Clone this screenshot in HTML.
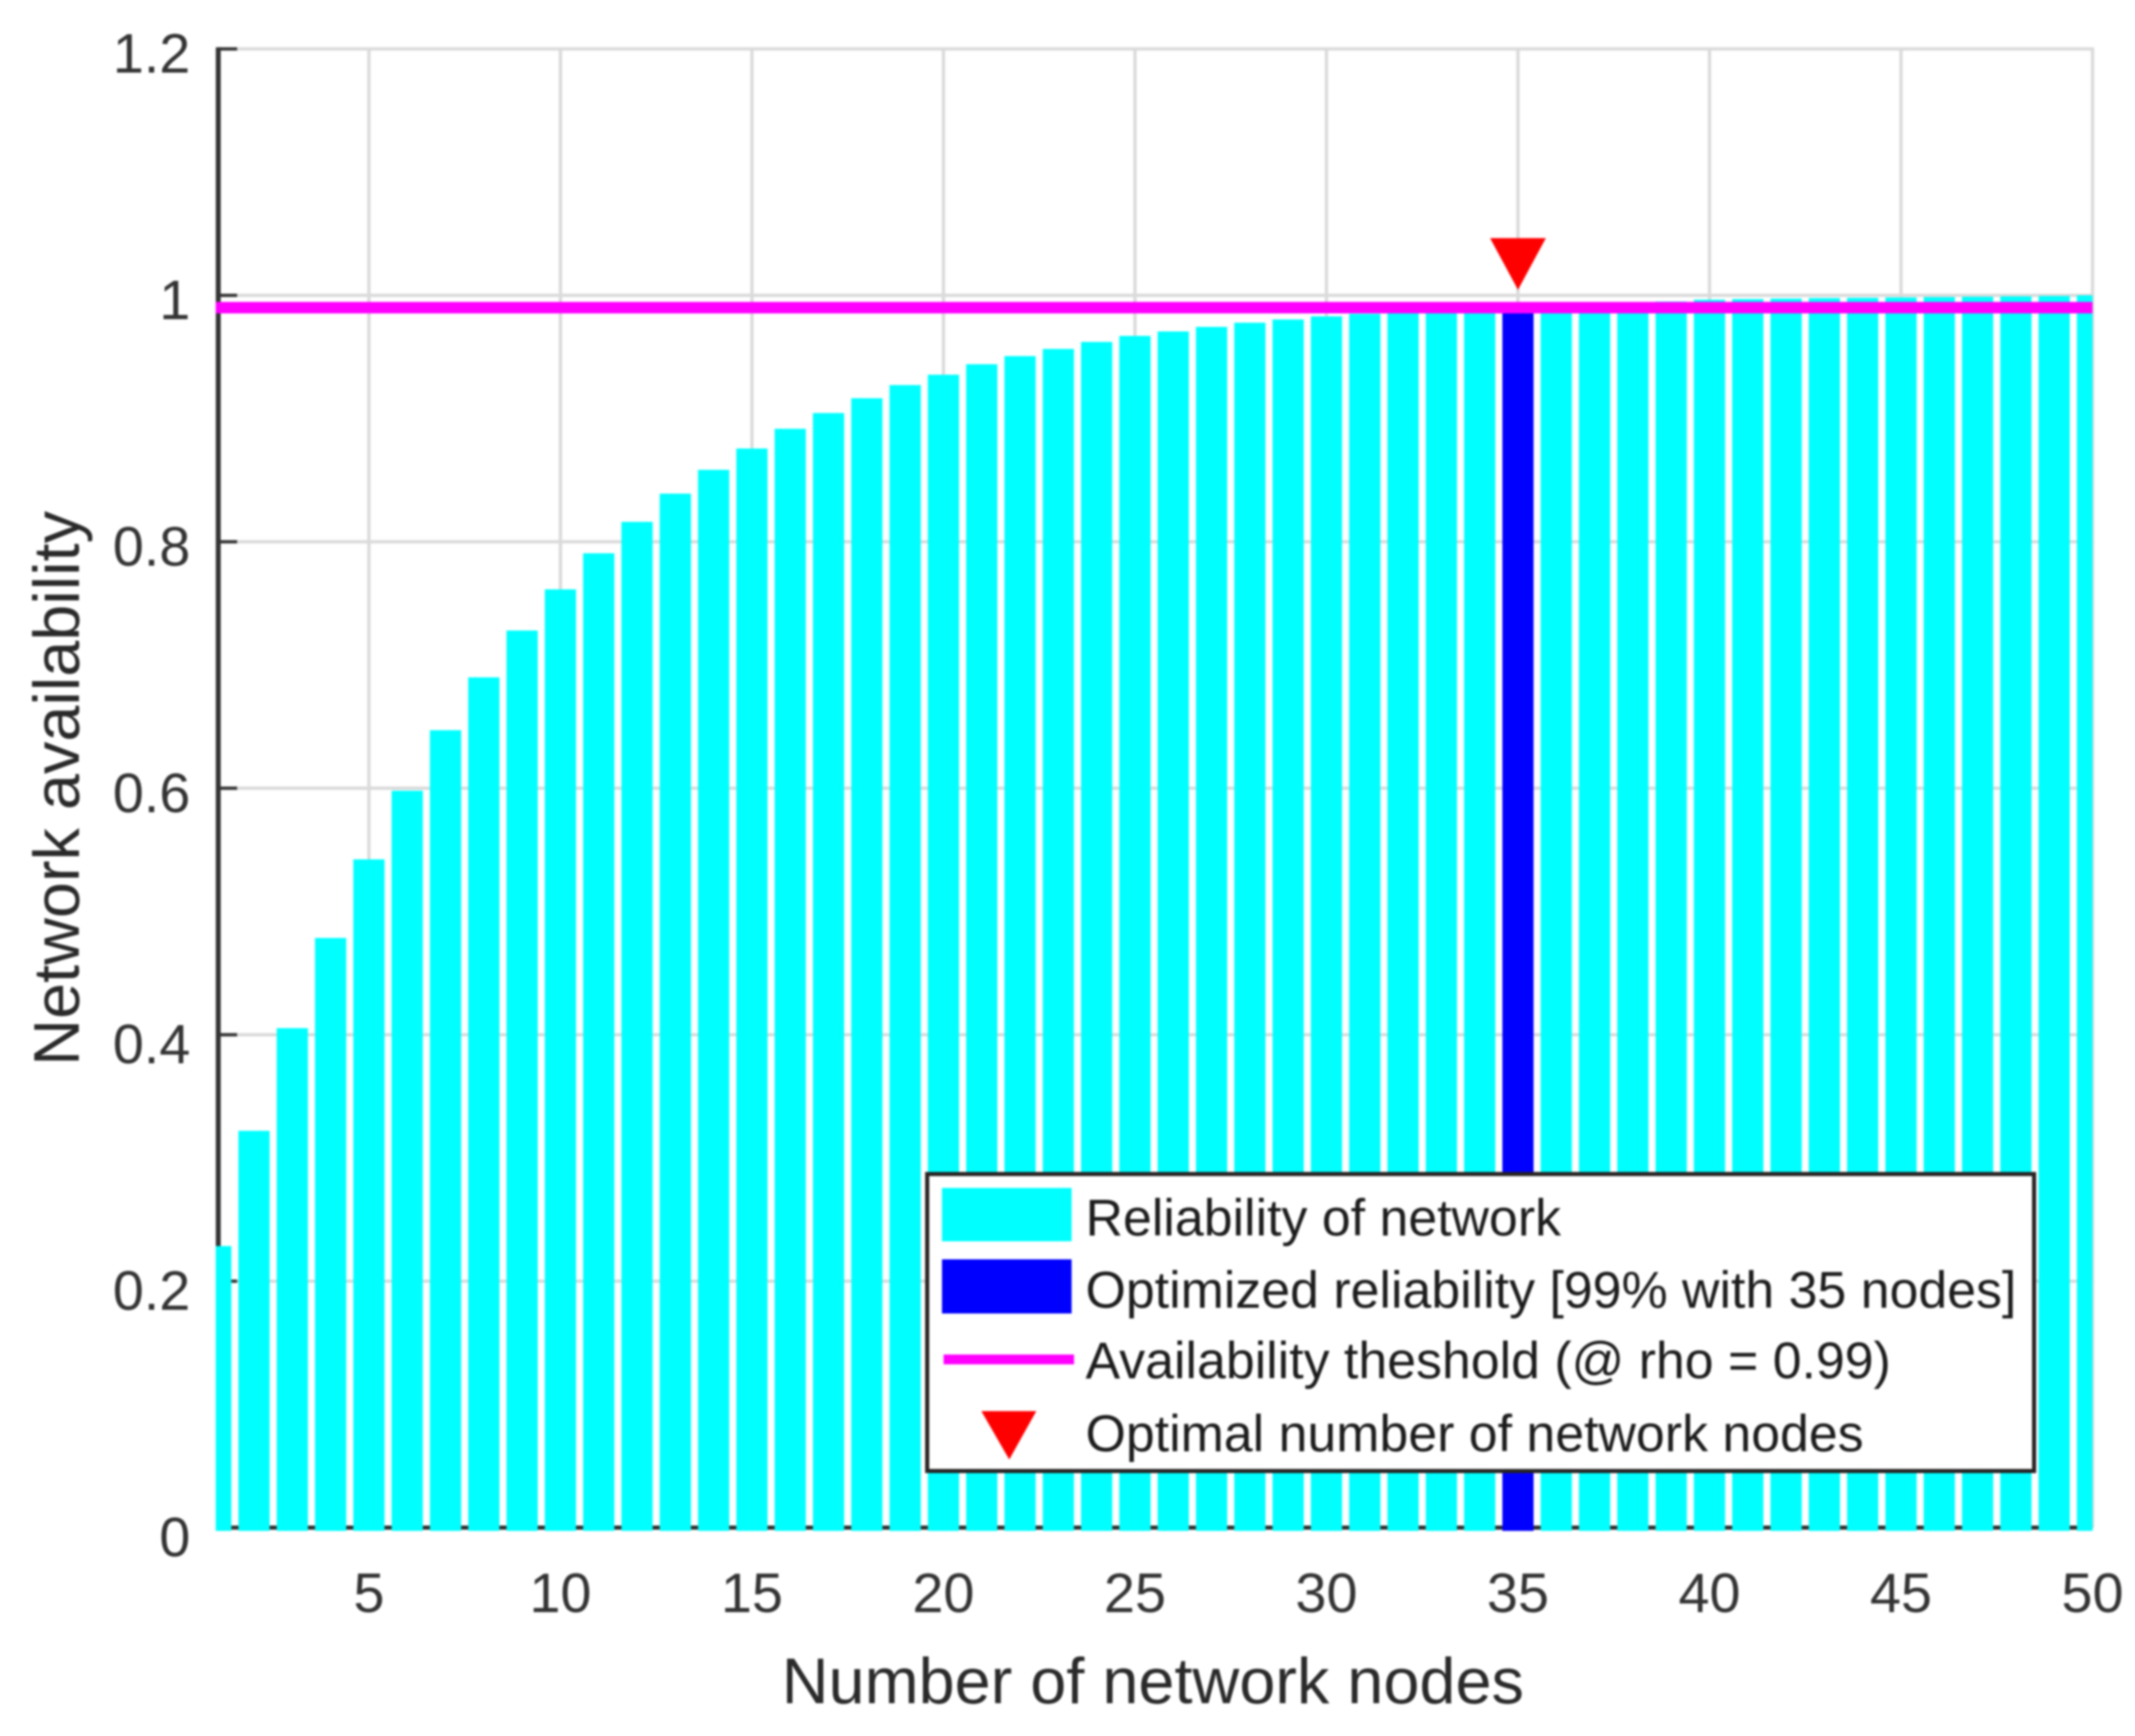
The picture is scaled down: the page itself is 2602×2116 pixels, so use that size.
<!DOCTYPE html>
<html lang="en">
<head>
<meta charset="utf-8">
<title>Network availability vs number of network nodes</title>
<style>
  html, body { margin: 0; padding: 0; background: #ffffff; }
  #chart { display: block; width: 2602px; height: 2116px; filter: blur(1.2px); }
  text { font-family: "Liberation Sans", Arial, sans-serif; fill: #333333; }
  .tick { font-size: 68px; }
  .axis-title { font-size: 79px; fill: #2a2a2a; }
  .legend-text { font-size: 63.2px; fill: #1c1c1c; }
</style>
</head>
<body>
<svg id="chart" xmlns="http://www.w3.org/2000/svg" width="2602" height="2116" viewBox="0 0 2602 2116">
  <rect x="0" y="0" width="2602" height="2116" fill="#ffffff"></rect>
  <g id="grid"></g>
  <g id="axes"></g>
  <g id="bars"></g>
  <g id="threshold"></g>
  <g id="marker"></g>
  <g id="labels"></g>
  <text class="axis-title" x="1405" y="2076" text-anchor="middle">Number of network nodes</text>
  <text class="axis-title" x="0" y="0" text-anchor="middle" transform="translate(96 961) rotate(-90)">Network availability</text>
  <g>
    <rect x="1130" y="1431" width="1349" height="362" fill="#ffffff" stroke="#262222" stroke-width="5"></rect>
    <rect x="1148" y="1448" width="158" height="65" fill="#00ffff"></rect>
    <text class="legend-text" x="1323" y="1506">Reliability of network</text>
    <rect x="1148" y="1535" width="158" height="66" fill="#0000ff"></rect>
    <text class="legend-text" x="1323" y="1594">Optimized reliability [99% with 35 nodes]</text>
    <rect x="1150" y="1651" width="159" height="12" fill="#ff00ff"></rect>
    <text class="legend-text" x="1323" y="1680">Availability theshold (@ rho = 0.99)</text>
    <polygon points="1196,1720 1263,1720 1230,1779" fill="#ff0000"></polygon>
    <text class="legend-text" x="1323" y="1769">Optimal number of network nodes</text>
  </g>
</svg>
<script>
const nodes = [1,2,3,4,5,6,7,8,9,10,11,12,13,14,15,16,17,18,19,20,21,22,23,24,25,26,27,28,29,30,31,32,33,34,35,36,37,38,39,40,41,42,43,44,45,46,47,48,49,50];
const reliability = [0.2285,0.322,0.4053,0.4785,0.5423,0.598,0.6471,0.69,0.728,0.7614,0.7907,0.8162,0.8391,0.8584,0.8757,0.8917,0.9045,0.9165,0.9272,0.9356,0.9441,0.9507,0.9565,0.9622,0.9671,0.9707,0.9744,0.9778,0.9804,0.983,0.985,0.987,0.9885,0.9895,0.9905,0.9918,0.9928,0.9938,0.995,0.9965,0.997,0.9974,0.9978,0.998,0.9983,0.9986,0.9989,0.9992,0.9995,1.0];
const xTicks = [5,10,15,20,25,30,35,40,45,50];
const xTickLabels = ["5","10","15","20","25","30","35","40","45","50"];
const yTicks = [0,0.2,0.4,0.6,0.8,1,1.2];
const yTickLabels = ["0","0.2","0.4","0.6","0.8","1","1.2"];
const availabilityThreshold = [0.99];
const optimalNode = [35];

const NS = 'http://www.w3.org/2000/svg';
const xLeft = 262.9, xRight = 2550.2, xDomainMin = 1, xDomainMax = 50;
const yBottom = 1862, yTop = 59.6, yDomainMin = 0, yDomainMax = 1.2;
const axisX = 266;
function xScale(v) { return xLeft + (v - xDomainMin) / (xDomainMax - xDomainMin) * (xRight - xLeft); }
function yScale(v) { return yBottom - (v - yDomainMin) / (yDomainMax - yDomainMin) * (yBottom - yTop); }
function make(tag, attrs, parent) {
  const el = document.createElementNS(NS, tag);
  for (const k in attrs) el.setAttribute(k, attrs[k]);
  parent.appendChild(el);
  return el;
}
const gridG = document.getElementById('grid');
const axesG = document.getElementById('axes');
const barsG = document.getElementById('bars');
const thresholdG = document.getElementById('threshold');
const markerG = document.getElementById('marker');
const labelsG = document.getElementById('labels');

xTicks.forEach(function (t) {
  const line = make('line', { x1: xScale(t), x2: xScale(t), y1: yTop, y2: yBottom, stroke: '#dadada', 'stroke-width': 4 }, gridG);
  
  
});
yTicks.forEach(function (t) {
  if (t === 0) return;
  const line = make('line', { x1: axisX, x2: xRight + 2, y1: yScale(t), y2: yScale(t), stroke: '#dadada', 'stroke-width': 4 }, gridG);
  
  
});

const yAxisLine = make('line', { x1: axisX, x2: axisX, y1: yTop - 2, y2: yBottom + 2, stroke: '#333333', 'stroke-width': 6 }, axesG);


const xAxisLine = make('line', { x1: axisX, x2: xRight, y1: yBottom, y2: yBottom, stroke: '#2c2c2c', 'stroke-width': 5 }, axesG);


yTicks.forEach(function (t) {
  const tick = make('line', { x1: axisX, x2: axisX + 23, y1: yScale(t), y2: yScale(t), stroke: '#333333', 'stroke-width': 4 }, axesG);
  
  
});

const barWidth = 0.815;
nodes.forEach(function (n, i) {
  const left = Math.max(xScale(n - barWidth / 2), xLeft);
  const right = Math.min(xScale(n + barWidth / 2), xRight);
  const top = yScale(reliability[i]);
  const isOptimal = optimalNode.indexOf(n) !== -1;
  const bar = make('rect', { x: left, y: top, width: right - left, height: yScale(0) + 4 - top, fill: isOptimal ? '#0000ff' : '#00ffff' }, barsG);
  
  
});

availabilityThreshold.forEach(function (v) {
  const line = make('line', { x1: xLeft, x2: xRight, y1: yScale(v), y2: yScale(v), stroke: '#ff00ff', 'stroke-width': 14 }, thresholdG);
  
  
});

optimalNode.forEach(function (n) {
  const cx = xScale(n);
  const tipY = yScale(reliability[n - 1]) - 21;
  const tri = make('polygon', { points: (cx - 34) + ',' + (tipY - 63) + ' ' + (cx + 34) + ',' + (tipY - 63) + ' ' + cx + ',' + tipY, fill: '#ff0000' }, markerG);
  
  
});

xTicks.forEach(function (t, i) {
  const label = make('text', { class: 'tick', x: xScale(t), y: 1965, 'text-anchor': 'middle' }, labelsG);
  label.textContent = xTickLabels[i];
  
  
});
yTicks.forEach(function (t, i) {
  const label = make('text', { class: 'tick', x: 232, y: yScale(t) + (t <= 0.4 ? 35 : 29), 'text-anchor': 'end' }, labelsG);
  label.textContent = yTickLabels[i];
  
  
});
</script>
</body>
</html>
